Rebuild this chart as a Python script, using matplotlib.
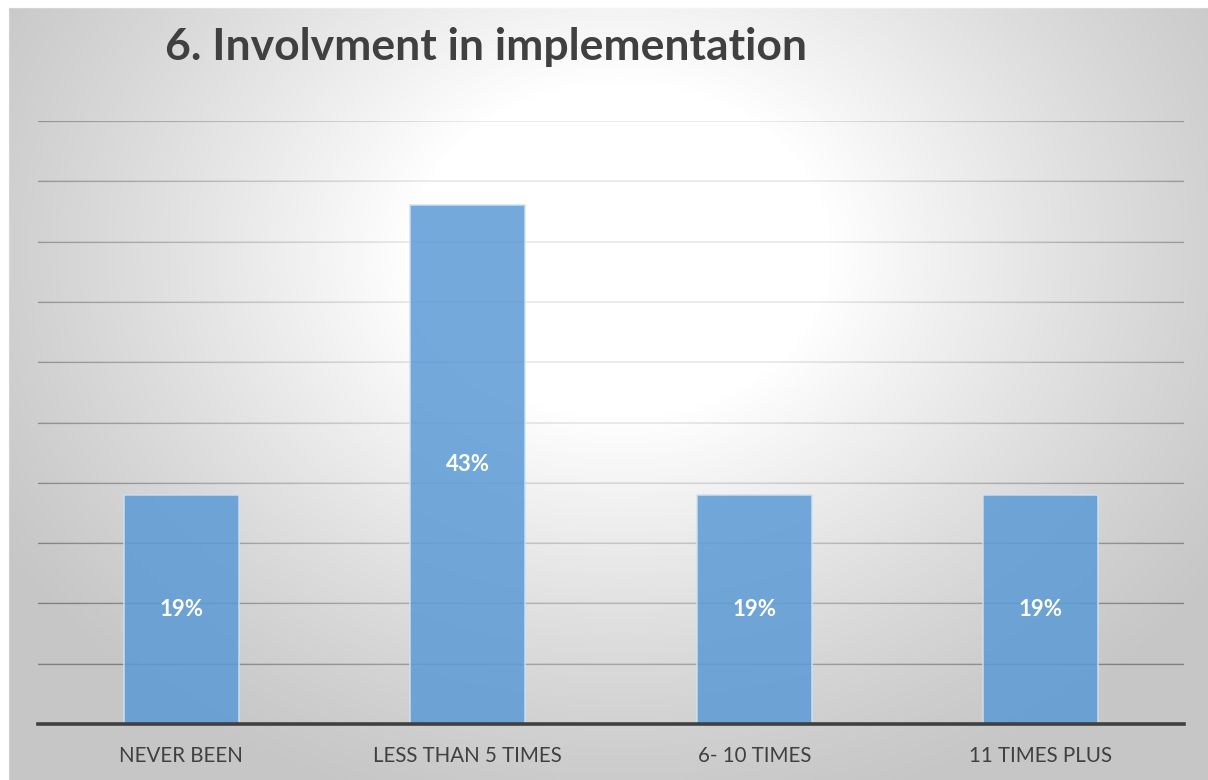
import numpy as np
import matplotlib
matplotlib.use('Agg')
import matplotlib.pyplot as plt
from matplotlib.patches import Rectangle

# datos de la grafica
categorias = ['NEVER BEEN', 'LESS THAN 5 TIMES', '6- 10 TIMES', '11 TIMES PLUS']
porcentajes = [19, 43, 19, 19]
titulo = '6. Involvment in implementation'

plt.rcParams['font.family'] = ['Lato', 'DejaVu Sans']

W, H = 1208, 780
fig = plt.figure(figsize=(W / 100, H / 100), dpi=100)
fig.patch.set_facecolor('white')

# fondo gris del area del grafico
fig.patches.append(Rectangle((9 / W, 0), (W - 9) / W, (H - 8) / H,
                             transform=fig.transFigure, facecolor='#c6c6c6',
                             edgecolor='#d0d0d0', lw=0.8, zorder=-5))

ax = fig.add_axes([38 / W, 56 / H, 1146 / W, 603 / H])
ax.patch.set_visible(False)
ax.set_xlim(-0.5, 3.5)
ax.set_ylim(0, 50)

# lineas de la cuadricula cada 5% (una oscura debajo del brillo y otra tenue encima)
for y in range(5, 55, 5):
    ax.axhline(y, color='#7f7f7f', lw=0.9, zorder=0.5)
    ax.axhline(y, color='#7f7f7f', lw=1.2, alpha=0.18, zorder=1.5)

# brillo blanco radial encima del fondo
inv = ax.transData.inverted()
(x0, y0) = inv.transform((9, 0))
(x1, y1) = inv.transform((W, H - 8))
px = np.arange(9, W)
py = np.arange(H - 8, 0, -1)
gx, gy = np.meshgrid(px, py)
r = np.sqrt(((gx - 620) / 700.0) ** 2 + ((H - gy - 250) / 560.0) ** 2)
alpha = np.clip((1.05 - r) / 0.75, 0, 1) ** 1.2
img = np.ones((len(py), len(px), 4))
img[..., 3] = alpha
ax.imshow(img, extent=(x0, x1, y0, y1), origin='upper', aspect='auto',
          zorder=1, clip_on=False, interpolation='bilinear')
ax.set_xlim(-0.5, 3.5)
ax.set_ylim(0, 50)

x = np.arange(len(categorias))
barras = ax.bar(x, porcentajes, width=0.4, color='#5B9BD5', alpha=0.85,
                edgecolor='#cfe2f3', linewidth=1.2, zorder=2)

for xi, v in zip(x, porcentajes):
    ax.text(xi, v / 2, f'{v}%', ha='center', va='center', color='white',
            fontsize=16, fontweight='bold', zorder=4)

for s in ['top', 'right', 'left']:
    ax.spines[s].set_visible(False)
ax.spines['bottom'].set_color('#404040')
ax.spines['bottom'].set_linewidth(2.6)
ax.spines['bottom'].set_zorder(3)

ax.set_yticks([])
ax.set_xticks(x)
ax.set_xticklabels(categorias, fontsize=14.8, color='#404040')
ax.tick_params(axis='x', length=0, pad=16)

fig.text(165 / W, 1 - 60 / H, titulo, fontsize=32, fontweight='bold',
         color='#404040', ha='left', va='baseline')

fig.savefig('out.png', dpi=100)
